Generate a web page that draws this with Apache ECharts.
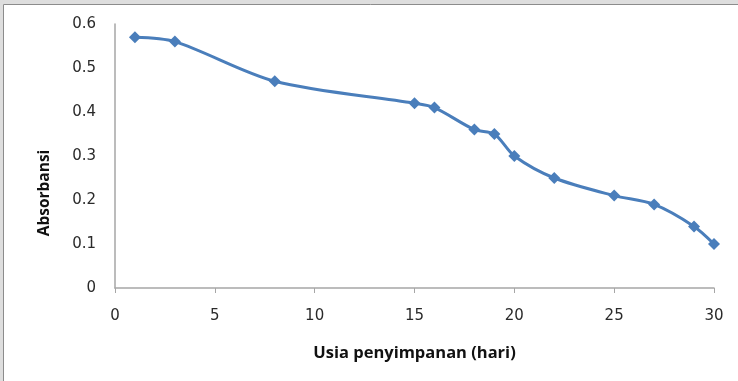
<!DOCTYPE html>
<html>
<head>
<meta charset="utf-8">
<style>
  html, body { margin: 0; padding: 0; background: #ffffff; }
  #chart { width: 738px; height: 381px; }
</style>
<script src="https://cdn.jsdelivr.net/npm/echarts@6/dist/echarts.min.js"></script>
</head>
<body>
<div id="chart"></div>
<script>
// Storage age (days) and measured absorbance
const days = [1, 3, 8, 15, 16, 18, 19, 20, 22, 25, 27, 29, 30];
const absorbance = [0.57, 0.56, 0.47, 0.42, 0.41, 0.36, 0.35, 0.30, 0.25, 0.21, 0.19, 0.14, 0.10];

const xTitle = 'Usia penyimpanan (hari)';
const yTitle = 'Absorbansi';

const points = days.map((d, i) => [d, absorbance[i]]);

const chart = echarts.init(document.getElementById('chart'), null, { renderer: 'canvas' });

chart.setOption({
  animation: false,
  backgroundColor: '#ffffff',
  graphic: [
    // light grey margin along the top and left edges, with the chart frame
    { type: 'rect', left: 0, top: 0, shape: { width: 738, height: 4 }, style: { fill: '#dedede' }, silent: true },
    { type: 'rect', left: 0, top: 0, shape: { width: 3, height: 381 }, style: { fill: '#dedede' }, silent: true },
    { type: 'line', shape: { x1: 3.5, y1: 4.5, x2: 738, y2: 4.5 }, style: { stroke: '#8c8c8c', lineWidth: 1 }, silent: true },
    { type: 'line', shape: { x1: 3.5, y1: 4.5, x2: 3.5, y2: 381 }, style: { stroke: '#8c8c8c', lineWidth: 1 }, silent: true },
    // vertical axis title, sitting a little below the plot's middle
    {
      type: 'text',
      x: 45, y: 193,
      rotation: Math.PI / 2,
      style: {
        text: yTitle,
        fontFamily: 'Open Sans', fontWeight: 'bold', fontSize: 15.5,
        fill: '#111111', align: 'center', verticalAlign: 'middle'
      },
      silent: true
    }
  ],
  grid: { left: 115, right: 24, top: 24, bottom: 93, containLabel: false },
  xAxis: {
    type: 'value',
    min: 0, max: 30, interval: 5,
    name: xTitle,
    nameLocation: 'middle',
    nameGap: 57,
    nameTextStyle: { fontFamily: 'Open Sans', fontWeight: 'bold', fontSize: 16.5, color: '#111111' },
    axisLine: { show: true, lineStyle: { color: '#a6a6a6', width: 1.5 } },
    axisTick: { show: true, length: 5, inside: false, lineStyle: { color: '#a6a6a6' } },
    axisLabel: { fontFamily: 'DejaVu Sans', fontSize: 15, color: '#2a2a2a', margin: 21 },
    splitLine: { show: false }
  },
  yAxis: {
    type: 'value',
    min: 0, max: 0.6, interval: 0.1,
    axisLine: { show: true, lineStyle: { color: '#a6a6a6', width: 1.5 } },
    axisTick: { show: false },
    axisLabel: { fontFamily: 'DejaVu Sans', fontSize: 15, color: '#2a2a2a', margin: 19 },
    splitLine: { show: false }
  },
  series: [{
    type: 'line',
    data: points,
    smooth: 0.3,
    symbol: 'diamond',
    symbolSize: 12,
    lineStyle: { color: '#4a7ebb', width: 3 },
    itemStyle: { color: '#4a7ebb' }
  }]
});
</script>
</body>
</html>
